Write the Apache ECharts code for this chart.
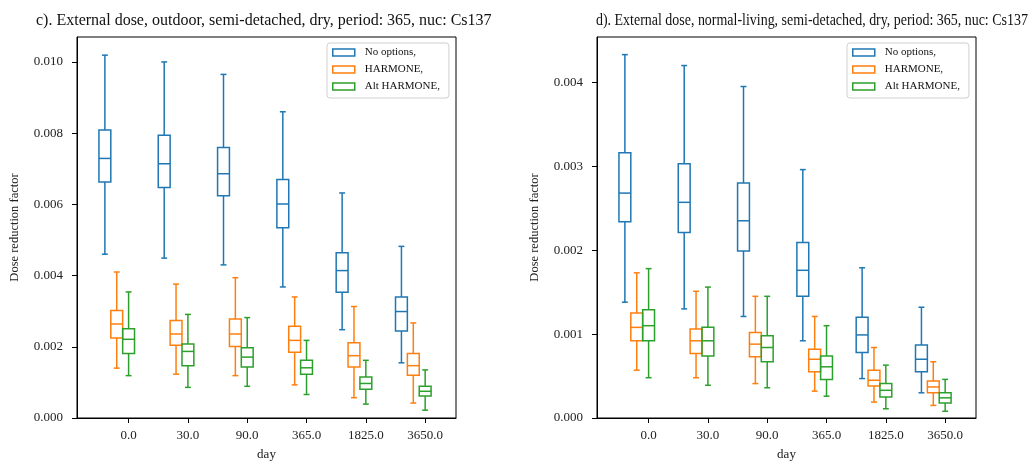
<!DOCTYPE html>
<html>
<head>
<meta charset="utf-8">
<script src="https://cdn.jsdelivr.net/npm/echarts@6/dist/echarts.min.js"></script>
<style>
  html, body { margin: 0; padding: 0; background: #fff; }
  #chart { width: 1034px; height: 463px; }
</style>
</head>
<body>
<div id="chart"></div>
<script>
// Exposure days on the x axis
const days = ['0.0', '30.0', '90.0', '365.0', '1825.0', '3650.0'];
const groups = ['No options,', 'HARMONE,', 'Alt HARMONE,'];
const colors = ['#1f77b4', '#ff7f0e', '#2ca02c'];
const titles = [
  'c). External dose, outdoor, semi-detached, dry, period: 365, nuc: Cs137',
  'd). External dose, normal-living, semi-detached, dry, period: 365, nuc: Cs137'
];

// Box statistics per day: [lower whisker, Q1, median, Q3, upper whisker]
// c) outdoor
const outdoorNoOptions = [
  [0.00460, 0.00663, 0.00729, 0.00809, 0.01019],
  [0.00449, 0.00647, 0.00714, 0.00794, 0.01000],
  [0.00430, 0.00624, 0.00686, 0.00760, 0.00965],
  [0.00368, 0.00534, 0.00601, 0.00670, 0.00860],
  [0.00248, 0.00353, 0.00414, 0.00464, 0.00632],
  [0.00155, 0.00244, 0.00299, 0.00340, 0.00482]
];
const outdoorHarmone = [
  [0.00140, 0.00225, 0.00264, 0.00302, 0.00410],
  [0.00123, 0.00204, 0.00236, 0.00274, 0.00376],
  [0.00119, 0.00201, 0.00236, 0.00278, 0.00394],
  [0.00093, 0.00185, 0.00218, 0.00258, 0.00340],
  [0.00057, 0.00143, 0.00175, 0.00211, 0.00313],
  [0.00042, 0.00120, 0.00147, 0.00181, 0.00267]
];
const outdoorAltHarmone = [
  [0.00119, 0.00181, 0.00221, 0.00251, 0.00354],
  [0.00086, 0.00147, 0.00187, 0.00208, 0.00291],
  [0.00089, 0.00143, 0.00171, 0.00197, 0.00282],
  [0.00066, 0.00123, 0.00141, 0.00162, 0.00218],
  [0.00039, 0.00081, 0.00097, 0.00115, 0.00162],
  [0.00022, 0.00062, 0.00075, 0.00089, 0.00135]
];
// d) normal-living
const livingNoOptions = [
  [0.00138, 0.00234, 0.00268, 0.00316, 0.00433],
  [0.00130, 0.00221, 0.00257, 0.00303, 0.00420],
  [0.00121, 0.00199, 0.00235, 0.00280, 0.00395],
  [0.00092, 0.00145, 0.00176, 0.00209, 0.00296],
  [0.00047, 0.00078, 0.00099, 0.00120, 0.00179],
  [0.00030, 0.00055, 0.00070, 0.00087, 0.00132]
];
const livingHarmone = [
  [0.00057, 0.00092, 0.00108, 0.00125, 0.00173],
  [0.00048, 0.00077, 0.00092, 0.00106, 0.00151],
  [0.00041, 0.00073, 0.00088, 0.00102, 0.00145],
  [0.00032, 0.00055, 0.00070, 0.00082, 0.00121],
  [0.00019, 0.00038, 0.00045, 0.00057, 0.00084],
  [0.00015, 0.00030, 0.00037, 0.00044, 0.00067]
];
const livingAltHarmone = [
  [0.00048, 0.00092, 0.00110, 0.00129, 0.00178],
  [0.00039, 0.00074, 0.00092, 0.00108, 0.00156],
  [0.00036, 0.00067, 0.00084, 0.00098, 0.00145],
  [0.00026, 0.00046, 0.00061, 0.00074, 0.00110],
  [0.00011, 0.00025, 0.00033, 0.00041, 0.00063],
  [0.00008, 0.00018, 0.00024, 0.00030, 0.00046]
];

// Y tick values for each panel
const outdoorTicks = [0, 0.002, 0.004, 0.006, 0.008, 0.010];
const livingTicks = [0, 0.001, 0.002, 0.003, 0.004];

const FONT = '"Liberation Serif", "DejaVu Serif", serif';
const BOX_W = 0.2;                       // box width in day-slot units
const GROUP_SHIFT = [-0.4, -0.2, 0.0];   // box centre relative to the day tick

function renderBox(color) {
  return function (params, api) {
    const x = api.value(0);
    const pLow = api.coord([x, api.value(1)]);
    const pQ1 = api.coord([x, api.value(2)]);
    const pMed = api.coord([x, api.value(3)]);
    const pQ3 = api.coord([x, api.value(4)]);
    const pHigh = api.coord([x, api.value(5)]);
    const half = api.size([BOX_W, 0])[0] / 2;
    const cap = half / 2;
    const cx = pMed[0];
    const st = { stroke: color, lineWidth: 1.5, fill: null };
    const line = (x1, y1, x2, y2) => ({ type: 'line', shape: { x1, y1, x2, y2 }, style: st });
    return {
      type: 'group',
      children: [
        { type: 'rect', shape: { x: cx - half, y: pQ3[1], width: half * 2, height: pQ1[1] - pQ3[1] }, style: st },
        line(cx - half, pMed[1], cx + half, pMed[1]),
        line(cx, pQ3[1], cx, pHigh[1]),
        line(cx, pQ1[1], cx, pLow[1]),
        line(cx - cap, pHigh[1], cx + cap, pHigh[1]),
        line(cx - cap, pLow[1], cx + cap, pLow[1])
      ]
    };
  };
}

function boxSeries(name, gi, stats, axisIndex) {
  return {
    type: 'custom',
    name: name,
    xAxisIndex: axisIndex,
    yAxisIndex: axisIndex,
    itemStyle: { color: colors[gi] },
    encode: { x: 0, y: [1, 2, 3, 4, 5] },
    data: stats.map((s, i) => [i + GROUP_SHIFT[gi]].concat(s)),
    renderItem: renderBox(colors[gi])
  };
}

function xAxis(gridIndex) {
  return {
    type: 'value', gridIndex: gridIndex,
    min: -0.87, max: 5.52,
    name: 'day', nameLocation: 'middle', nameGap: 30,
    nameTextStyle: { fontFamily: FONT, fontSize: 13, color: '#222' },
    axisLine: { show: true, onZero: false, lineStyle: { color: '#000', width: 1 } },
    axisTick: { show: true, length: 5, customValues: [0, 1, 2, 3, 4, 5], lineStyle: { color: '#000' } },
    axisLabel: {
      customValues: [0, 1, 2, 3, 4, 5], margin: 11,
      fontFamily: FONT, fontSize: 13, color: '#222',
      formatter: v => days[Math.round(v)]
    },
    splitLine: { show: false }
  };
}

function yAxis(gridIndex, max, ticks) {
  return {
    type: 'value', gridIndex: gridIndex,
    min: 0, max: max,
    name: 'Dose reduction factor', nameLocation: 'middle', nameGap: 56, nameRotate: 90,
    nameTextStyle: { fontFamily: FONT, fontSize: 12.5, color: '#222' },
    axisLine: { show: true, onZero: false, lineStyle: { color: '#000', width: 1 } },
    axisTick: { show: true, length: 5, customValues: ticks, lineStyle: { color: '#000' } },
    axisLabel: {
      customValues: ticks, margin: 14,
      fontFamily: FONT, fontSize: 13, color: '#222',
      formatter: v => v.toFixed(3)
    },
    splitLine: { show: false }
  };
}

function legend(left) {
  return {
    orient: 'vertical', left: left, top: 43,
    itemWidth: 22, itemHeight: 7, itemGap: 6,
    padding: [4, 9, 6, 5],
    backgroundColor: '#fff', borderColor: '#d0d0d0', borderWidth: 1, borderRadius: 3,
    textStyle: { fontFamily: FONT, fontSize: 11, color: '#111', padding: [0, 0, 0, 5] },
    selectedMode: false,
    data: groups.map((g, i) => ({
      name: g, icon: 'rect',
      itemStyle: { color: 'rgba(0,0,0,0)', borderColor: colors[i], borderWidth: 1.5 }
    }))
  };
}

// Panel titles; the second one is set a little narrower so it fits the page width
function titleText(text, x, sx) {
  return {
    type: 'text', x: x, y: 13, scaleX: sx, silent: true,
    style: { text: text, font: '16px ' + FONT, fill: '#111', textVerticalAlign: 'top' }
  };
}

const chart = echarts.init(document.getElementById('chart'), null, { renderer: 'canvas' });
chart.setOption({
  backgroundColor: '#fff',
  animation: false,
  graphic: [titleText(titles[0], 36, 1), titleText(titles[1], 596, 0.872)],
  grid: [
    { left: 77, top: 37, width: 379, height: 381, outerBoundsMode: 'none', containLabel: false,
      show: true, borderColor: '#000', borderWidth: 1 },
    { left: 597, top: 37, width: 379, height: 381, outerBoundsMode: 'none', containLabel: false,
      show: true, borderColor: '#000', borderWidth: 1 }
  ],
  legend: [legend(327), legend(847)],
  xAxis: [xAxis(0), xAxis(1)],
  yAxis: [yAxis(0, 0.0107, outdoorTicks), yAxis(1, 0.00454, livingTicks)],
  series: [
    boxSeries(groups[0], 0, outdoorNoOptions, 0),
    boxSeries(groups[1], 1, outdoorHarmone, 0),
    boxSeries(groups[2], 2, outdoorAltHarmone, 0),
    boxSeries(groups[0], 0, livingNoOptions, 1),
    boxSeries(groups[1], 1, livingHarmone, 1),
    boxSeries(groups[2], 2, livingAltHarmone, 1)
  ]
});
</script>
</body>
</html>
